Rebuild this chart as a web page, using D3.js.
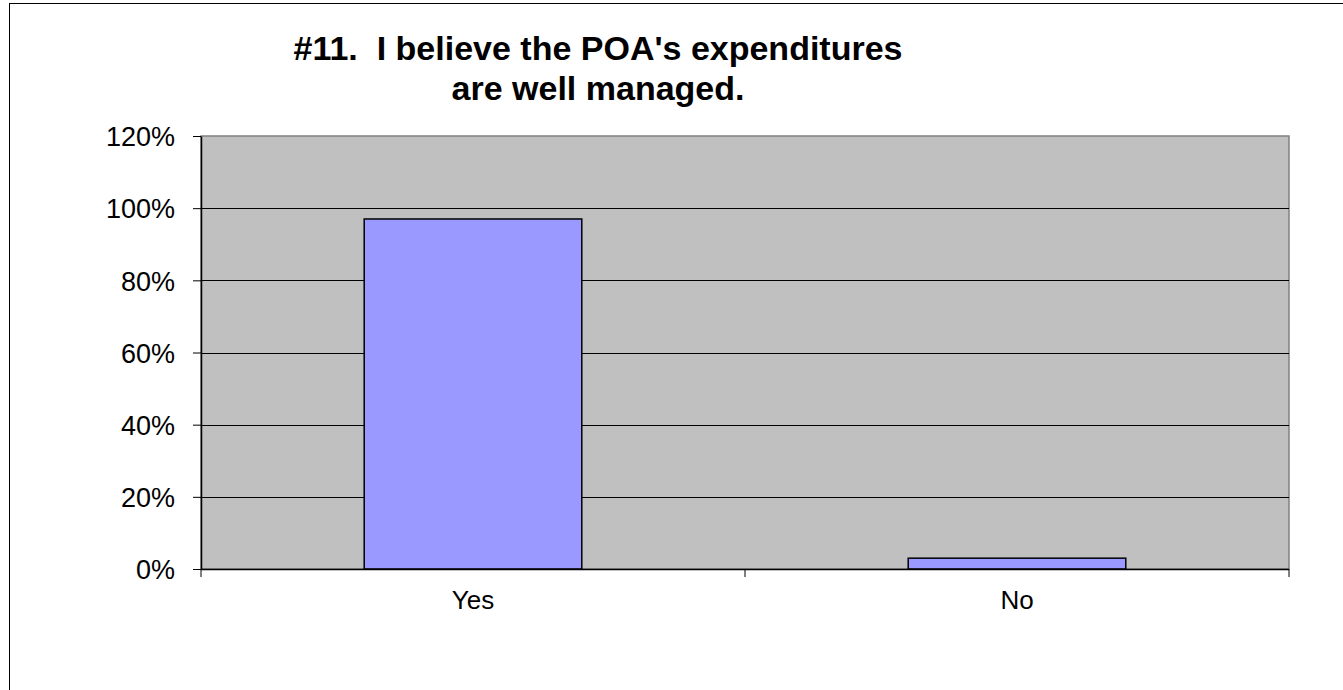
<!DOCTYPE html>
<html>
<head>
<meta charset="utf-8">
<script src="https://cdn.jsdelivr.net/npm/d3@7"></script>
<style>
  html, body { margin: 0; padding: 0; background: #fff; }
  svg { display: block; font-family: "Liberation Sans", Arial, sans-serif; }
  .title { white-space: pre; }
</style>
</head>
<body>
<svg id="chart" width="1343" height="690"></svg>
<script>
// Survey answers and share of respondents
const categories = ["Yes", "No"];
const shares = [0.97, 0.03];
const yTicks = [0, 0.2, 0.4, 0.6, 0.8, 1.0, 1.2];
const titleLines = ["#11.  I believe the POA's expenditures", "are well managed."];

const svg = d3.select("#chart");
const plot = { left: 201, right: 1289, top: 136, bottom: 569 };

// Outer chart frame (extends past the right and bottom edges)
svg.append("rect")
  .attr("x", 9.5).attr("y", 3.5)
  .attr("width", 1400).attr("height", 800)
  .attr("fill", "#fff").attr("stroke", "#000").attr("stroke-width", 1);

const x = d3.scaleBand()
  .domain(categories)
  .range([plot.left, plot.right])
  .paddingInner(0.6)
  .paddingOuter(0.3);

const y = d3.scaleLinear()
  .domain([0, 1.2])
  .range([plot.bottom, plot.top]);

// Plot background
svg.append("rect")
  .attr("x", plot.left).attr("y", plot.top)
  .attr("width", plot.right - plot.left).attr("height", plot.bottom - plot.top)
  .attr("fill", "#C0C0C0").attr("stroke", "#808080").attr("stroke-width", 1.5);

// Horizontal gridlines
svg.append("g")
  .selectAll("line")
  .data(yTicks.filter(t => t > 0 && t < 1.2))
  .join("line")
  .attr("x1", plot.left).attr("x2", plot.right)
  .attr("y1", d => Math.round(y(d)) + 0.5).attr("y2", d => Math.round(y(d)) + 0.5)
  .attr("stroke", "#000").attr("stroke-width", 1);

// Bars
svg.append("g")
  .selectAll("rect")
  .data(categories.map((c, i) => ({ c, v: shares[i] })))
  .join("rect")
  .attr("x", d => x(d.c))
  .attr("y", d => y(d.v))
  .attr("width", x.bandwidth())
  .attr("height", d => y(0) - y(d.v))
  .attr("fill", "#9999FF")
  .attr("stroke", "#000")
  .attr("stroke-width", 1.5);

// Y axis
const yAxis = d3.axisLeft(y)
  .tickValues(yTicks)
  .tickFormat(d3.format(".0%"))
  .tickSizeInner(8)
  .tickSizeOuter(0)
  .tickPadding(18);
const gy = svg.append("g")
  .attr("transform", `translate(${plot.left},0)`)
  .call(yAxis);
gy.select(".domain").attr("stroke", "#000").attr("stroke-width", 1.5);
gy.selectAll(".tick line").attr("stroke", "#000");
gy.selectAll(".tick text")
  .attr("fill", "#000")
  .attr("font-size", 27)
  .attr("font-family", "Liberation Sans, Arial, sans-serif")
  .attr("dy", "0.36em");

// X axis: ticks sit on category boundaries
const gx = svg.append("g")
  .attr("transform", `translate(0,${plot.bottom})`);
gx.append("line")
  .attr("x1", plot.left).attr("x2", plot.right)
  .attr("y1", 0.5).attr("y2", 0.5)
  .attr("stroke", "#000").attr("stroke-width", 1.5);
const boundaries = [plot.left, (x("Yes") + x.bandwidth() + x("No")) / 2, plot.right];
gx.selectAll("line.tk")
  .data(boundaries)
  .join("line")
  .attr("class", "tk")
  .attr("x1", d => d).attr("x2", d => d)
  .attr("y1", 0).attr("y2", 8)
  .attr("stroke", "#000");
gx.selectAll("text")
  .data(categories)
  .join("text")
  .attr("x", d => x(d) + x.bandwidth() / 2)
  .attr("y", 40)
  .attr("text-anchor", "middle")
  .attr("font-size", 26)
  .attr("fill", "#000")
  .text(d => d);

// Title
svg.append("text")
  .attr("class", "title")
  .attr("x", 598)
  .attr("text-anchor", "middle")
  .attr("font-weight", "bold")
  .attr("font-size", 34)
  .attr("fill", "#000")
  .selectAll("tspan")
  .data(titleLines)
  .join("tspan")
  .attr("x", 598)
  .attr("y", (d, i) => 60 + i * 40)
  .text(d => d);
</script>
</body>
</html>
